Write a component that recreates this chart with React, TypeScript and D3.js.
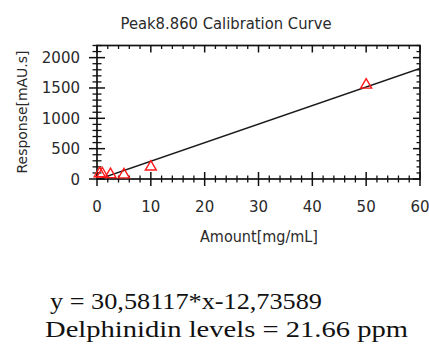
import React from "react";
import * as d3 from "d3";

const title = "Peak8.860 Calibration Curve";
const xLabel = "Amount[mg/mL]";
const yLabel = "Response[mAU.s]";
const amounts = [0.5, 1, 2.5, 5, 10, 50];
const responses = [90, 85, 75, 70, 200, 1550];
const slope = 30.58117;
const intercept = -12.73589;
const xTickValues = [0, 10, 20, 30, 40, 50, 60];
const yTickValues = [0, 500, 1000, 1500, 2000];
const equationText = "y = 30,58117*x-12,73589";
const resultText = "Delphinidin levels = 21.66 ppm";

const W = 429;
const H = 344;
const L = 97, R = 420, T = 45.5, B = 179;

export default function App() {
  const x = d3.scaleLinear().domain([0, 60]).range([L, R]);
  const y = d3.scaleLinear().domain([0, 2200]).range([B, T]);
  const xMinor = d3.range(0, 60.001, 2).filter((v) => v % 10 !== 0);
  const yMinor = d3.range(0, 2200.001, 100).filter((v) => v % 500 !== 0);
  const line = d3
    .line<number>()
    .x((v) => x(v))
    .y((v) => y(slope * v + intercept));
  const tri = d3.symbol().type(d3.symbolTriangle).size(52)();
  const sans = "'DejaVu Sans', Verdana, sans-serif";
  const serif = "'Liberation Serif', 'Times New Roman', serif";
  const textCol = "#2a2a2a";
  return (
    <svg
      width={W}
      height={H}
      style={{ position: "fixed", left: 0, top: 0, background: "#fff" }}
    >
      <defs>
        <clipPath id="plot">
          <rect x={L} y={T} width={R - L} height={B - T} />
        </clipPath>
      </defs>
      <text x={226} y={29} fontFamily={sans} fontSize={15.5} fill={textCol} textAnchor="middle" textLength={211} lengthAdjust="spacingAndGlyphs">
        {title}
      </text>
      {/* fit line */}
      <path d={line([0, 60]) || ""} fill="none" stroke="#1a1a1a" strokeWidth={1.5} clipPath="url(#plot)" />
      {/* frame */}
      <rect x={L} y={T} width={R - L} height={B - T} fill="none" stroke="#111" strokeWidth={1.7} />
      {/* bottom axis ticks */}
      {xTickValues.map((v) => (
        <line key={"xb" + v} x1={x(v)} x2={x(v)} y1={B - 7} y2={B + 7} stroke="#111" strokeWidth={1.5} />
      ))}
      {xMinor.map((v) => (
        <line key={"xbm" + v} x1={x(v)} x2={x(v)} y1={B - 3.5} y2={B + 3.5} stroke="#111" strokeWidth={1.3} />
      ))}
      {/* top axis ticks */}
      {xTickValues.map((v) => (
        <line key={"xt" + v} x1={x(v)} x2={x(v)} y1={T} y2={T + 7} stroke="#111" strokeWidth={1.5} />
      ))}
      {xMinor.map((v) => (
        <line key={"xtm" + v} x1={x(v)} x2={x(v)} y1={T} y2={T + 3.5} stroke="#111" strokeWidth={1.3} />
      ))}
      {/* left axis ticks */}
      {yTickValues.map((v) => (
        <line key={"yl" + v} x1={L - 8} x2={L + 8} y1={y(v)} y2={y(v)} stroke="#111" strokeWidth={1.5} />
      ))}
      {yMinor.map((v) => (
        <line key={"ylm" + v} x1={L - 4.5} x2={L + 4.5} y1={y(v)} y2={y(v)} stroke="#111" strokeWidth={1.3} />
      ))}
      {/* right axis ticks */}
      {yTickValues.map((v) => (
        <line key={"yr" + v} x1={R - 7} x2={R} y1={y(v)} y2={y(v)} stroke="#111" strokeWidth={1.5} />
      ))}
      {yMinor.map((v) => (
        <line key={"yrm" + v} x1={R - 3.5} x2={R} y1={y(v)} y2={y(v)} stroke="#111" strokeWidth={1.3} />
      ))}
      {/* data points */}
      {amounts.map((a, i) => (
        <path
          key={"p" + i}
          d={tri || ""}
          transform={`translate(${x(a)},${y(responses[i])})`}
          fill="none"
          stroke="#ff1a1a"
          strokeWidth={1.4}
        />
      ))}
      {/* tick labels */}
      {xTickValues.map((v) => (
        <text key={"xl" + v} x={x(v)} y={211.5} fontFamily={sans} fontSize={15} fill={textCol} textAnchor="middle">
          {v}
        </text>
      ))}
      {yTickValues.map((v) => (
        <text key={"yl2" + v} x={80} y={y(v) + 5.5} fontFamily={sans} fontSize={15} fill={textCol} textAnchor="end">
          {v}
        </text>
      ))}
      <text x={259} y={241.5} fontFamily={sans} fontSize={15} fill={textCol} textAnchor="middle" textLength={118} lengthAdjust="spacingAndGlyphs">
        {xLabel}
      </text>
      <text
        transform={`translate(26.5,112) rotate(-90)`}
        fontFamily={sans}
        fontSize={14.5}
        fill={textCol}
        textAnchor="middle"
        textLength={123}
        lengthAdjust="spacingAndGlyphs"
      >
        {yLabel}
      </text>
      <text x={50} y={308.5} fontFamily={serif} fontSize={23} fill="#111" textLength={272} lengthAdjust="spacingAndGlyphs">
        {equationText}
      </text>
      <text x={45} y={336.5} fontFamily={serif} fontSize={23} fill="#111" textLength={363} lengthAdjust="spacingAndGlyphs">
        {resultText}
      </text>
    </svg>
  );
}
